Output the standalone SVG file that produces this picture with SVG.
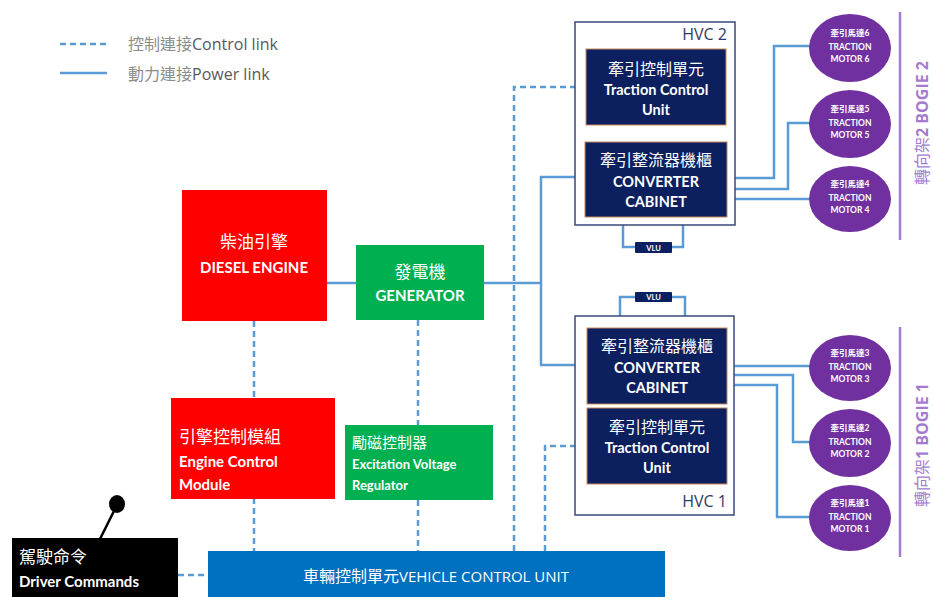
<svg xmlns="http://www.w3.org/2000/svg" width="933" height="597" viewBox="0 0 933 597">
<style>
.cn{font-family:"Noto Sans CJK TC","Noto Sans CJK SC",sans-serif;}
.en{font-family:Lato,"Liberation Sans","Noto Sans CJK TC",sans-serif;font-weight:bold;}
.w{fill:#ffffff;}
.pw{fill:none;stroke:#5b9bd5;stroke-width:2.5;}
.ct{fill:none;stroke:#5b9bd5;stroke-width:2.5;stroke-dasharray:6 4;}
.navy{fill:#0c1f5e;stroke:#c8875a;stroke-width:1;}
.hvc{fill:#ffffff;stroke:#3a4a78;stroke-width:1.5;}
.mot{fill:#7030a0;}
.mt{font-family:Lato,"Noto Sans CJK TC",sans-serif;font-weight:bold;font-size:8.5px;fill:#ffffff;text-anchor:middle;}
.bog{stroke:#a57bd0;stroke-width:2.5;}
.bt{font-family:"Noto Sans CJK TC","Noto Sans CJK SC",sans-serif;font-size:16px;fill:#a57bd0;text-anchor:middle;}
.bt tspan{font-family:"Open Sans",sans-serif;font-weight:bold;}
</style>
<rect width="933" height="597" fill="#ffffff"/>

<g id="legend">
<line x1="60" y1="44" x2="107" y2="44" class="ct"/>
<line x1="60" y1="73" x2="107" y2="73" class="pw"/>
<text x="128" y="50" font-size="16" fill="#8c8c8c" class="cn">控制連接<tspan fill="#595959" font-family="'Open Sans',sans-serif">Control link</tspan></text>
<text x="128" y="80" font-size="16" fill="#8c8c8c" class="cn">動力連接<tspan fill="#595959" font-family="'Open Sans',sans-serif">Power link</tspan></text>
</g>

<g id="connectors">
<!-- power -->
<line x1="327" y1="283" x2="356" y2="283" class="pw"/>
<line x1="484" y1="283" x2="541" y2="283" class="pw"/>
<polyline points="585,177 541,177 541,365 587,365" class="pw"/>
<polyline points="623,217 623,247 683,247 683,217" class="pw"/>
<polyline points="620,328 620,297 685,297 685,328" class="pw"/>
<polyline points="727,178 774,178 774,46 810,46" class="pw"/>
<polyline points="727,189 788,189 788,123 810,123" class="pw"/>
<polyline points="727,199 810,199" class="pw"/>
<polyline points="727,366 810,366" class="pw"/>
<polyline points="727,375 793,375 793,442 810,442" class="pw"/>
<polyline points="727,385 777,385 777,517 810,517" class="pw"/>
<!-- control -->
<line x1="254" y1="321" x2="254" y2="398" class="ct"/>
<line x1="254" y1="498" x2="254" y2="551" class="ct"/>
<line x1="418" y1="320" x2="418" y2="425" class="ct"/>
<line x1="418" y1="500" x2="418" y2="551" class="ct"/>
<polyline points="514,551 514,87 586,87" class="ct"/>
<polyline points="545,551 545,446 587,446" class="ct"/>
<line x1="178" y1="575" x2="208" y2="575" class="ct"/>
</g>

<g id="diesel-engine">
<rect x="182" y="190" width="145" height="131" fill="#ff0000"/>
<text x="254" y="248" font-size="17" text-anchor="middle" class="cn w">柴油引擎</text>
<text x="254" y="273" font-size="15" text-anchor="middle" class="en w">DIESEL ENGINE</text>
</g>

<g id="generator">
<rect x="356" y="245" width="128" height="75" fill="#00b050"/>
<text x="420" y="278" font-size="17" text-anchor="middle" class="cn w">發電機</text>
<text x="420" y="301" font-size="15" text-anchor="middle" class="en w">GENERATOR</text>
</g>

<g id="engine-control-module">
<rect x="171" y="398" width="164" height="101" fill="#ff0000"/>
<text x="179" y="443" font-size="17" class="cn w">引擎控制模組</text>
<text x="179" y="467" font-size="15" class="en w">Engine Control</text>
<text x="179" y="490" font-size="15" class="en w">Module</text>
</g>

<g id="excitation-voltage-regulator">
<rect x="345" y="425" width="148" height="75" fill="#00b050"/>
<text x="352" y="448" font-size="15" class="cn w">勵磁控制器</text>
<text x="352" y="469" font-size="13" class="en w">Excitation Voltage</text>
<text x="352" y="490" font-size="13" class="en w">Regulator</text>
</g>

<g id="driver-commands">
<line x1="117" y1="505" x2="100" y2="539" stroke="#000" stroke-width="2.5"/>
<ellipse cx="117" cy="504" rx="8" ry="9" fill="#000"/>
<rect x="12" y="538" width="166" height="59" fill="#000"/>
<text x="19" y="563" font-size="17" class="cn w">駕駛命令</text>
<text x="19" y="587" font-size="15" class="en w">Driver Commands</text>
</g>

<g id="vehicle-control-unit">
<rect x="208" y="551" width="457" height="46" fill="#0070c0"/>
<text x="436" y="582" font-size="16" text-anchor="middle" class="w cn">車輛控制單元<tspan font-family="'Open Sans',sans-serif" font-size="15">VEHICLE CONTROL UNIT</tspan></text>
</g>

<g id="hvc2">
<rect x="575" y="22" width="160" height="203" class="hvc"/>
<text x="727" y="40" font-size="16" text-anchor="end" fill="#2f3b66" font-family="'Open Sans',sans-serif">HVC 2</text>
<g id="hvc2-tcu">
<rect x="586" y="49" width="140" height="76" class="navy"/>
<text x="656" y="75" font-size="16" text-anchor="middle" class="cn w">牽引控制單元</text>
<text x="656" y="95" font-size="14.5" text-anchor="middle" class="en w">Traction Control</text>
<text x="656" y="115" font-size="14.5" text-anchor="middle" class="en w">Unit</text>
</g>
<g id="hvc2-converter">
<rect x="585" y="142" width="142" height="75" class="navy"/>
<text x="656" y="166" font-size="16" text-anchor="middle" class="cn w">牽引整流器機櫃</text>
<text x="656" y="187" font-size="14.5" text-anchor="middle" class="en w">CONVERTER</text>
<text x="656" y="207" font-size="14.5" text-anchor="middle" class="en w">CABINET</text>
</g>
</g>

<g id="vlu2">
<rect x="635" y="242" width="37" height="11" fill="#0c1f5e" rx="1"/>
<text x="653.5" y="250.5" font-size="7.5" text-anchor="middle" class="en w">VLU</text>
</g>

<g id="hvc1">
<rect x="575" y="316" width="159" height="199" class="hvc"/>
<text x="727" y="507" font-size="16" text-anchor="end" fill="#2f3b66" font-family="'Open Sans',sans-serif">HVC 1</text>
<g id="hvc1-converter">
<rect x="587" y="328" width="140" height="76" class="navy"/>
<text x="657" y="352" font-size="16" text-anchor="middle" class="cn w">牽引整流器機櫃</text>
<text x="657" y="373" font-size="14.5" text-anchor="middle" class="en w">CONVERTER</text>
<text x="657" y="393" font-size="14.5" text-anchor="middle" class="en w">CABINET</text>
</g>
<g id="hvc1-tcu">
<rect x="587" y="408" width="140" height="76" class="navy"/>
<text x="657" y="433" font-size="16" text-anchor="middle" class="cn w">牽引控制單元</text>
<text x="657" y="453" font-size="14.5" text-anchor="middle" class="en w">Traction Control</text>
<text x="657" y="473" font-size="14.5" text-anchor="middle" class="en w">Unit</text>
</g>
</g>

<g id="vlu1">
<rect x="635" y="292" width="37" height="10" fill="#0c1f5e" rx="1"/>
<text x="653.5" y="300" font-size="7.5" text-anchor="middle" class="en w">VLU</text>
</g>

<g id="motor6"><ellipse cx="850" cy="48" rx="41" ry="34" class="mot"/>
<text x="850" y="36" class="mt">牽引馬達6</text><text x="850" y="50" class="mt">TRACTION</text><text x="850" y="62" class="mt">MOTOR 6</text></g>
<g id="motor5"><ellipse cx="850" cy="124" rx="41" ry="34" class="mot"/>
<text x="850" y="112" class="mt">牽引馬達5</text><text x="850" y="126" class="mt">TRACTION</text><text x="850" y="138" class="mt">MOTOR 5</text></g>
<g id="motor4"><ellipse cx="850" cy="199" rx="41" ry="33" class="mot"/>
<text x="850" y="187" class="mt">牽引馬達4</text><text x="850" y="201" class="mt">TRACTION</text><text x="850" y="213" class="mt">MOTOR 4</text></g>
<g id="motor3"><ellipse cx="850" cy="368" rx="41" ry="33" class="mot"/>
<text x="850" y="356" class="mt">牽引馬達3</text><text x="850" y="370" class="mt">TRACTION</text><text x="850" y="382" class="mt">MOTOR 3</text></g>
<g id="motor2"><ellipse cx="850" cy="443" rx="41" ry="34" class="mot"/>
<text x="850" y="431" class="mt">牽引馬達2</text><text x="850" y="445" class="mt">TRACTION</text><text x="850" y="457" class="mt">MOTOR 2</text></g>
<g id="motor1"><ellipse cx="850" cy="518" rx="41" ry="33" class="mot"/>
<text x="850" y="506" class="mt">牽引馬達1</text><text x="850" y="520" class="mt">TRACTION</text><text x="850" y="532" class="mt">MOTOR 1</text></g>

<g id="bogie2">
<line x1="900" y1="12" x2="900" y2="240" class="bog"/>
<text transform="translate(928,123) rotate(-90)" class="bt">轉向架<tspan>2  BOGIE 2</tspan></text>
</g>
<g id="bogie1">
<line x1="900" y1="327" x2="900" y2="557" class="bog"/>
<text transform="translate(928,445) rotate(-90)" class="bt">轉向架<tspan>1 BOGIE 1</tspan></text>
</g>
</svg>
